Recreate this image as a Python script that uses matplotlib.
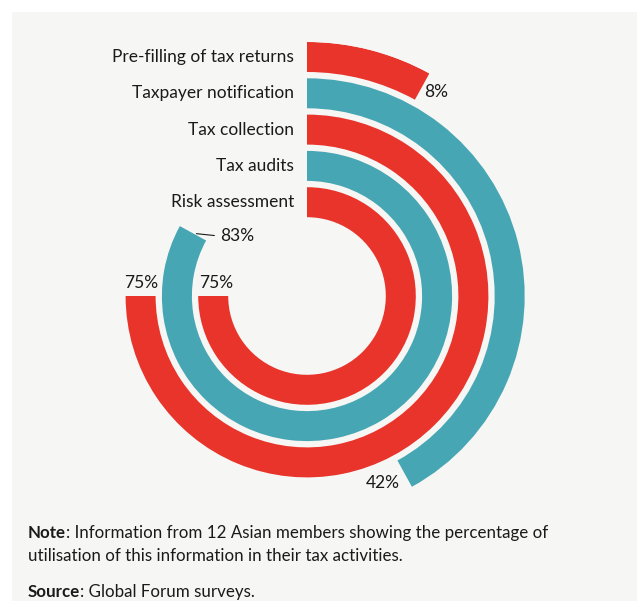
import numpy as np
import matplotlib.pyplot as plt
from matplotlib.patches import Rectangle

# categories from outer ring to inner ring
categories = ["Pre-filling of tax returns", "Taxpayer notification",
              "Tax collection", "Tax audits", "Risk assessment"]
shares = [8, 42, 75, 83, 75]
value_labels = ["8%", "42%", "75%", "83%", "75%"]

RED = "#e8342b"
TEAL = "#47a6b3"
BG = "#f6f6f4"
INK = "#1a1a1a"
colors = [RED, TEAL, RED, TEAL, RED]

plt.rcParams['font.family'] = ['Lato', 'DejaVu Sans']

W, H = 637, 601
fig = plt.figure(figsize=(W / 100, H / 100), dpi=100)
fig.patch.set_facecolor("white")
fig.patches.append(Rectangle((12 / W, 0), 1, 1 - 12 / H, transform=fig.transFigure,
                             facecolor=BG, edgecolor="none", zorder=-1))

##RINGS
cx, cy, rmax = 307, 296, 254
ax = fig.add_axes([(cx - rmax) / W, (H - cy - rmax) / H, 2 * rmax / W, 2 * rmax / H],
                  projection="polar")
ax.set_theta_zero_location("N")
ax.set_theta_direction(-1)
ax.set_ylim(0, rmax)
ax.set_axis_off()
ax.patch.set_alpha(0)

step, thick = 36.3, 30
radii = [rmax - thick / 2 - i * step for i in range(len(categories))]

for r, v, c in zip(radii, shares, colors):
    ax.barh(r, np.deg2rad(v * 3.6), left=0, height=thick, color=c,
            edgecolor="none", align="center")

for r, name in zip(radii, categories):
    ax.annotate(name, xy=(0, r), xytext=(-9.4, 0), textcoords="offset points",
                ha="right", va="center", fontsize=12.5, color=INK)

# value labels placed next to the end of each arc (tax audits gets a leader dash)
offsets = [((1.4, -4), "left", None),
           ((-3.2, -6.9), "right", None),
           ((0.4, 9.4), "center", None),
           ((19.4, -2), "left", dict(arrowstyle="-", color=INK, lw=0.8,
                                     relpos=(0, 0.5), shrinkA=2, shrinkB=2.5)),
           ((2.4, 9.4), "center", None)]
for r, v, lab, ((dx, dy), ha, arrow) in zip(radii, shares, value_labels, offsets):
    ax.annotate(lab, xy=(np.deg2rad(v * 3.6), r), xytext=(dx, dy),
                textcoords="offset points", ha=ha, va="center", fontsize=12.5,
                color=INK, arrowprops=arrow, annotation_clip=False)

##NOTES
note = fig.text(28 / W, 1 - 538 / H, "Note", fontsize=12.2, fontweight="bold",
                color=INK, va="baseline")
fig.text(28 / W, 1 - 561 / H, "utilisation of this information in their tax activities.",
         fontsize=12.2, color=INK, va="baseline")
src = fig.text(28 / W, 1 - 597 / H, "Source", fontsize=12.2, fontweight="bold",
               color=INK, va="baseline")
fig.canvas.draw()
fig.add_artist(plt.Annotation(": Information from 12 Asian members showing the percentage of",
                              xy=(1, 0), xycoords=note, va="bottom", ha="left",
                              fontsize=12.2, color=INK))
fig.add_artist(plt.Annotation(": Global Forum surveys.", xy=(1, 0), xycoords=src,
                              va="bottom", ha="left", fontsize=12.2, color=INK))

fig.savefig("out.png", dpi=100, facecolor=fig.get_facecolor())
